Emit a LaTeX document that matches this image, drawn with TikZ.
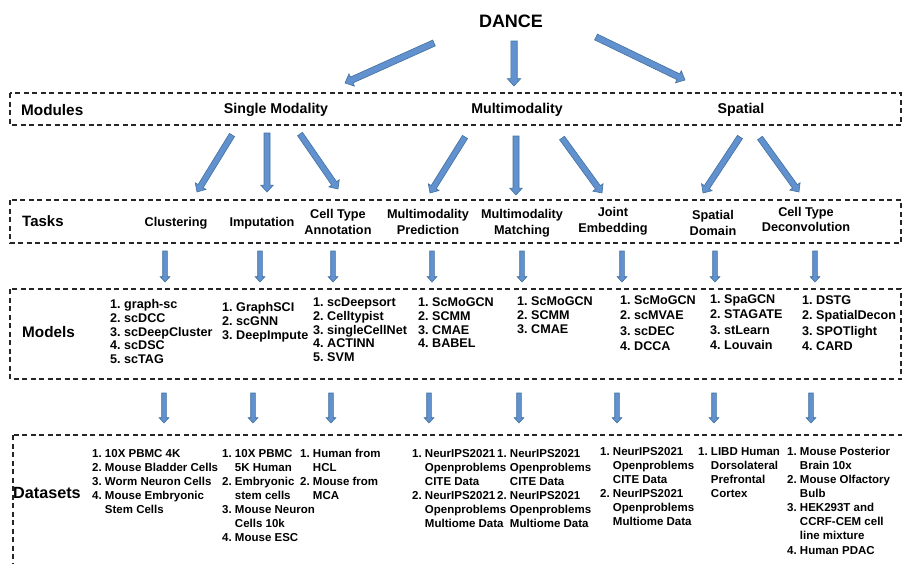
\documentclass[tikz,border=0pt]{standalone}
\usepackage{fontspec}
\setmainfont{Liberation Sans}
\usetikzlibrary{calc}
\frenchspacing

\definecolor{arrfill}{RGB}{98,145,207}
\definecolor{arrline}{RGB}{65,113,156}

% block arrow: [half shaft width]{tail}{head}
\newcommand{\blockarrow}[3][3pt]{%
  \path ($(#3)!2.3*#1!(#2)$) coordinate (ab);
  \filldraw[blockarr]
    ($(#2)!#1!90:(#3)$) -- ($(ab)!#1!90:(#3)$) -- ($(ab)!2.1*#1!90:(#3)$)
    -- (#3) -- ($(ab)!2.1*#1!-90:(#3)$) -- ($(ab)!#1!-90:(#3)$)
    -- ($(#2)!#1!-90:(#3)$) -- cycle;
}
\newcommand{\itemcol}[1]{\begin{tabular}[t]{@{}l@{}}#1\end{tabular}}
\newcommand{\listindent}{\hphantom{1.\ }}

\begin{document}
\begin{tikzpicture}[x=1pt, y=-1pt,
  frame/.style={draw=black!85, line width=1.3pt, dash pattern=on 5pt off 3.5pt},
  blockarr/.style={fill=arrfill, draw=arrline, line width=0.6pt},
  head/.style={inner sep=0pt, font=\fontsize{18}{20}\selectfont\bfseries},
  rowlbl/.style={anchor=west, inner sep=0pt, font=\fontsize{15.3}{17}\selectfont\bfseries},
  module/.style={inner sep=0pt, font=\fontsize{14.2}{16}\selectfont\bfseries},
  task/.style={align=center, inner sep=0pt, font=\fontsize{12.7}{15.5}\selectfont\bfseries},
  model/.style={anchor=base west, inner sep=0pt, font=\fontsize{12.6}{#1}\selectfont\bfseries},
  model/.default=13.8,
  data/.style={anchor=base west, inner sep=0pt, font=\fontsize{11.5}{14.1}\selectfont\bfseries}
]
  \useasboundingbox (0,0) rectangle (902,563);
  \clip (0,0) rectangle (902,563);

  % frames
  \draw[frame] (10,93) rectangle (901,125);
  \draw[frame] (10,200) rectangle (901,243);
  \draw[frame] (10,289) rectangle (901,379);
  \draw[frame] (13,435) rectangle (912,580);

  % top
  \node[head] (dance) at (511,21) {DANCE};

  % modules
  \node[rowlbl] (modules) at (21,110) {Modules};
  \node[module] (single) at (276,110) {Single Modality};
  \node[module] (multi) at (517,110) {Multimodality};
  \node[module] (spatial) at (741,110) {Spatial};

  % tasks
  \node[rowlbl, font=\fontsize{15}{17}\selectfont\bfseries] (tasks) at (22,221) {Tasks};
  \node[task] (clu) at (176,223.5) {Clustering};
  \node[task] (imp) at (262,223.5) {Imputation};
  \node[task] (cta) at (338,222) {Cell Type\\Annotation};
  \node[task] (mmp) at (428,222) {Multimodality\\Prediction};
  \node[task] (mmm) at (522,223) {Multimodality\\Matching};
  \node[task] (jem) at (613,221) {Joint\\Embedding};
  \node[task] (spd) at (713,223) {Spatial\\Domain};
  \node[task] (ctd) at (806,219.5) {Cell Type\\Deconvolution};

  % models
  \node[rowlbl] (models) at (22,332) {Models};
  \node[model] (clu-list) at (110,308.5) {\itemcol{1. graph-sc\\2. scDCC\\3. scDeepCluster\\4. scDSC\\5. scTAG}};
  \node[model] (imp-list) at (222,311.5) {\itemcol{1. GraphSCI\\2. scGNN\\3. DeepImpute}};
  \node[model] (cta-list) at (313,306.5) {\itemcol{1. scDeepsort\\2. Celltypist\\3. singleCellNet\\4. ACTINN\\5. SVM}};
  \node[model] (mmp-list) at (418,306.5) {\itemcol{1. ScMoGCN\\2. SCMM\\3. CMAE\\4. BABEL}};
  \node[model] (mmm-list) at (517,305.5) {\itemcol{1. ScMoGCN\\2. SCMM\\3. CMAE}};
  \node[model=15.3] (jem-list) at (620,304.5) {\itemcol{1. ScMoGCN\\2. scMVAE\\3. scDEC\\4. DCCA}};
  \node[model=15.3] (spd-list) at (710,303.5) {\itemcol{1. SpaGCN\\2. STAGATE\\3. stLearn\\4. Louvain}};
  \node[model=15.3] (ctd-list) at (802,304.5) {\itemcol{1. DSTG\\2. SpatialDecon\\3. SPOTlight\\4. CARD}};

  % datasets
  \node[rowlbl, font=\fontsize{16.2}{18}\selectfont\bfseries] (datasets) at (13,493) {Datasets};
  \node[data] (clu-data) at (92,457.3) {\itemcol{1. 10X PBMC 4K\\2. Mouse Bladder Cells\\3. Worm Neuron Cells\\4. Mouse Embryonic\\\listindent Stem Cells}};
  \node[data] (imp-data) at (222,457.3) {\itemcol{1. 10X PBMC\\\listindent 5K Human\\2. Embryonic\\\listindent stem cells\\3. Mouse Neuron\\\listindent Cells 10k\\4. Mouse ESC}};
  \node[data] (cta-data) at (300,457.3) {\itemcol{1. Human from\\\listindent HCL\\2. Mouse from\\\listindent MCA}};
  \node[data] (mmp-data) at (412,457.3) {\itemcol{1. NeurIPS2021\\\listindent Openproblems\\\listindent CITE Data\\2. NeurIPS2021\\\listindent Openproblems\\\listindent Multiome Data}};
  \node[data] (mmm-data) at (497,457.3) {\itemcol{1. NeurIPS2021\\\listindent Openproblems\\\listindent CITE Data\\2. NeurIPS2021\\\listindent Openproblems\\\listindent Multiome Data}};
  \node[data] (jem-data) at (600,455.3) {\itemcol{1. NeurIPS2021\\\listindent Openproblems\\\listindent CITE Data\\2. NeurIPS2021\\\listindent Openproblems\\\listindent Multiome Data}};
  \node[data] (spd-data) at (698,455.3) {\itemcol{1. LIBD Human\\\listindent Dorsolateral\\\listindent Prefrontal\\\listindent Cortex}};
  \node[data] (ctd-data) at (787,455.3) {\itemcol{1. Mouse Posterior\\\listindent Brain 10x\\2. Mouse Olfactory\\\listindent Bulb\\3. HEK293T and\\\listindent CCRF-CEM cell\\\listindent line mixture\\4. Human PDAC}};

  % arrow ends
  \coordinate (dance-l) at (434,43);    \coordinate (single-in) at (345,83);
  \coordinate (dance-m) at (514,41);    \coordinate (multi-in) at (514,86);
  \coordinate (dance-r) at (596,37);    \coordinate (spatial-in) at (685,80);

  \coordinate (single-l) at (232,135);  \coordinate (clu-in) at (197,192);
  \coordinate (single-m) at (267,133);  \coordinate (imp-in) at (267,192);
  \coordinate (single-r) at (300,134);  \coordinate (cta-in) at (338,189);
  \coordinate (multi-l) at (465,137);   \coordinate (mmp-in) at (430,193);
  \coordinate (multi-m) at (516,136);   \coordinate (mmm-in) at (516,195);
  \coordinate (multi-r) at (562,138);   \coordinate (jem-in) at (602,193);
  \coordinate (spatial-l) at (740,137); \coordinate (spd-in) at (703,193);
  \coordinate (spatial-r) at (760,138); \coordinate (ctd-in) at (799,192);

  \coordinate (clu-out) at (165,251);   \coordinate (clu-mod) at (165,282);
  \coordinate (imp-out) at (260,251);   \coordinate (imp-mod) at (260,282);
  \coordinate (cta-out) at (333,251);   \coordinate (cta-mod) at (333,282);
  \coordinate (mmp-out) at (432,251);   \coordinate (mmp-mod) at (432,282);
  \coordinate (mmm-out) at (522,251);   \coordinate (mmm-mod) at (522,282);
  \coordinate (jem-out) at (622,251);   \coordinate (jem-mod) at (622,282);
  \coordinate (spd-out) at (715,251);   \coordinate (spd-mod) at (715,282);
  \coordinate (ctd-out) at (815,251);   \coordinate (ctd-mod) at (815,282);

  \coordinate (clu-mout) at (164,393);  \coordinate (clu-dat) at (164,423);
  \coordinate (imp-mout) at (253,393);  \coordinate (imp-dat) at (253,423);
  \coordinate (cta-mout) at (331,393);  \coordinate (cta-dat) at (331,423);
  \coordinate (mmp-mout) at (429,393);  \coordinate (mmp-dat) at (429,423);
  \coordinate (mmm-mout) at (519,393);  \coordinate (mmm-dat) at (519,423);
  \coordinate (jem-mout) at (617,393);  \coordinate (jem-dat) at (617,423);
  \coordinate (spd-mout) at (714,393);  \coordinate (spd-dat) at (714,423);
  \coordinate (ctd-mout) at (811,393);  \coordinate (ctd-dat) at (811,423);

  % arrows
  \blockarrow[3.2pt]{dance-l}{single-in}
  \blockarrow[3.2pt]{dance-m}{multi-in}
  \blockarrow[3.2pt]{dance-r}{spatial-in}

  \blockarrow{single-l}{clu-in}
  \blockarrow{single-m}{imp-in}
  \blockarrow{single-r}{cta-in}
  \blockarrow{multi-l}{mmp-in}
  \blockarrow{multi-m}{mmm-in}
  \blockarrow{multi-r}{jem-in}
  \blockarrow{spatial-l}{spd-in}
  \blockarrow{spatial-r}{ctd-in}

  \blockarrow[2.3pt]{clu-out}{clu-mod}
  \blockarrow[2.3pt]{imp-out}{imp-mod}
  \blockarrow[2.3pt]{cta-out}{cta-mod}
  \blockarrow[2.3pt]{mmp-out}{mmp-mod}
  \blockarrow[2.3pt]{mmm-out}{mmm-mod}
  \blockarrow[2.3pt]{jem-out}{jem-mod}
  \blockarrow[2.3pt]{spd-out}{spd-mod}
  \blockarrow[2.3pt]{ctd-out}{ctd-mod}

  \blockarrow[2.3pt]{clu-mout}{clu-dat}
  \blockarrow[2.3pt]{imp-mout}{imp-dat}
  \blockarrow[2.3pt]{cta-mout}{cta-dat}
  \blockarrow[2.3pt]{mmp-mout}{mmp-dat}
  \blockarrow[2.3pt]{mmm-mout}{mmm-dat}
  \blockarrow[2.3pt]{jem-mout}{jem-dat}
  \blockarrow[2.3pt]{spd-mout}{spd-dat}
  \blockarrow[2.3pt]{ctd-mout}{ctd-dat}
\end{tikzpicture}
\end{document}
